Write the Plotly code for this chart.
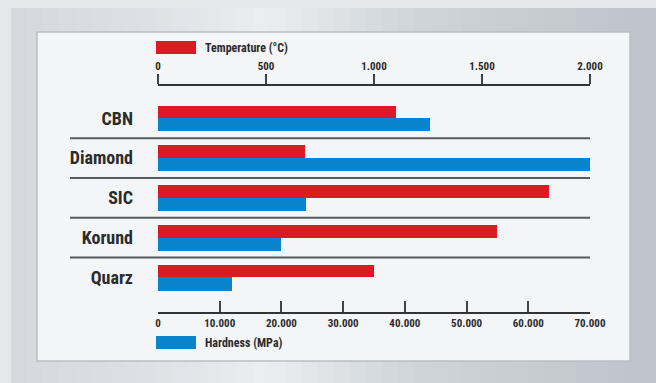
import plotly.graph_objects as go

categories = ["CBN", "Diamond", "SIC", "Korund", "Quarz"]
temperature_c = [1100, 680, 1810, 1570, 1000]
hardness_mpa = [44000, 70000, 24000, 20000, 12000]

temp_ticks = [0, 500, 1000, 1500, 2000]
temp_ticklabels = ["0", "500", "1.000", "1.500", "2.000"]
hard_ticks = [0, 10000, 20000, 30000, 40000, 50000, 60000, 70000]
hard_ticklabels = ["0", "10.000", "20.000", "30.000", "40.000", "50.000", "60.000", "70.000"]

W, H = 656, 383
L, R, T, B = 158, 66, 86, 71
PW, PH = W - L - R, H - T - B


def px(x):
    return (x - L) / PW


def py(y):
    return (H - B - y) / PH


FONT = "Liberation Sans Narrow, Roboto Condensed, Arial Narrow, Roboto, Liberation Sans, Arial, sans-serif"
RED = "#dc1a24"
BLUE = "#0883cc"
TXT = "#2b2b2b"

fig = go.Figure()
fig.add_trace(go.Bar(
    y=categories, x=temperature_c, orientation="h", xaxis="x2",
    marker=dict(color=RED, line=dict(width=0)), offset=-0.32, width=0.32,
    name="Temperature (°C)", showlegend=False,
))
fig.add_trace(go.Bar(
    y=categories, x=hardness_mpa, orientation="h", xaxis="x",
    marker=dict(color=BLUE, line=dict(width=0)), offset=0, width=0.33,
    name="Hardness (MPa)", showlegend=False,
))


def lerp(c1, c2, t):
    a = [int(c1[i:i + 2], 16) for i in (1, 3, 5)]
    b = [int(c2[i:i + 2], 16) for i in (1, 3, 5)]
    return "#" + "".join(f"{round(a[k] + (b[k] - a[k]) * t):02x}" for k in range(3))


# background gradient strips (decoration)
stops = [(11, "#d4d9de"), (150, "#dde1e5"), (270, "#eceef0"), (400, "#d0d6db"), (656, "#bcc3ca")]
shapes = []
n = 40
for k in range(n):
    x0 = 11 + (W - 11) * k / n
    x1 = 11 + (W - 11) * (k + 1) / n + 0.5
    xm = (x0 + x1) / 2
    for j in range(len(stops) - 1):
        if stops[j][0] <= xm <= stops[j + 1][0]:
            t = (xm - stops[j][0]) / (stops[j + 1][0] - stops[j][0])
            col = lerp(stops[j][1], stops[j + 1][1], t)
            break
    shapes.append(dict(type="rect", xref="paper", yref="paper", x0=px(x0), x1=px(x1),
                       y0=py(8), y1=py(H + 5), fillcolor=col, line=dict(width=0), layer="below"))

shapes += [
    dict(type="rect", xref="paper", yref="paper", x0=px(37), x1=px(630), y0=py(32), y1=py(361),
         fillcolor="#f3f5f7", line=dict(color="#b8bfc6", width=1.5), layer="below"),
    dict(type="rect", xref="paper", yref="paper", x0=px(156), x1=px(196), y0=py(41), y1=py(54),
         fillcolor=RED, line=dict(width=0)),
    dict(type="rect", xref="paper", yref="paper", x0=px(156), x1=px(196), y0=py(336), y1=py(349),
         fillcolor=BLUE, line=dict(width=0)),
]
for i in range(len(categories) - 1):
    shapes.append(dict(type="line", xref="paper", yref="y", x0=px(70), x1=1.0,
                       y0=i + 0.5, y1=i + 0.5, line=dict(color="#5a5a5a", width=2)))

annotations = [
    dict(xref="paper", yref="paper", x=px(203), y=py(48), xanchor="left", yanchor="middle",
         text="<b>Temperature (°C)</b>", showarrow=False, font=dict(family=FONT, size=12, color=TXT)),
    dict(xref="paper", yref="paper", x=px(203), y=py(343), xanchor="left", yanchor="middle",
         text="<b>Hardness (MPa)</b>", showarrow=False, font=dict(family=FONT, size=12, color=TXT)),
]

fig.update_layout(
    width=W, height=H,
    margin=dict(l=L, r=R, t=T, b=B),
    paper_bgcolor="#e4e8eb",
    plot_bgcolor="rgba(0,0,0,0)",
    barmode="overlay",
    bargap=0,
    shapes=shapes,
    annotations=annotations,
    xaxis=dict(
        range=[0, 70000], tickvals=hard_ticks, ticktext=hard_ticklabels,
        side="bottom", showline=True, linecolor="#333333", linewidth=2,
        ticks="inside", ticklen=11, tickwidth=1.5, tickcolor="#444444",
        showgrid=False, zeroline=False, fixedrange=True,
        tickfont=dict(family=FONT, size=11, color=TXT, weight="bold"),
    ),
    xaxis2=dict(
        range=[0, 2000], tickvals=temp_ticks, ticktext=temp_ticklabels,
        side="top", overlaying="x", showline=True, linecolor="#333333", linewidth=2,
        ticks="outside", ticklen=10, tickwidth=1.5, tickcolor="#444444",
        showgrid=False, zeroline=False, fixedrange=True,
        tickfont=dict(family=FONT, size=11, color=TXT, weight="bold"),
    ),
    yaxis=dict(
        type="category", categoryorder="array", categoryarray=categories,
        range=[4.867, -0.81], showgrid=False, zeroline=False, showline=False,
        ticks="", ticklabelstandoff=24, fixedrange=True,
        tickfont=dict(family=FONT, size=18, color=TXT, weight="bold"),
    ),
)

fig.write_html("out.html", config={"displayModeBar": False},
               post_script="document.body.style.margin='0';document.body.style.background='#e4e8eb';")
